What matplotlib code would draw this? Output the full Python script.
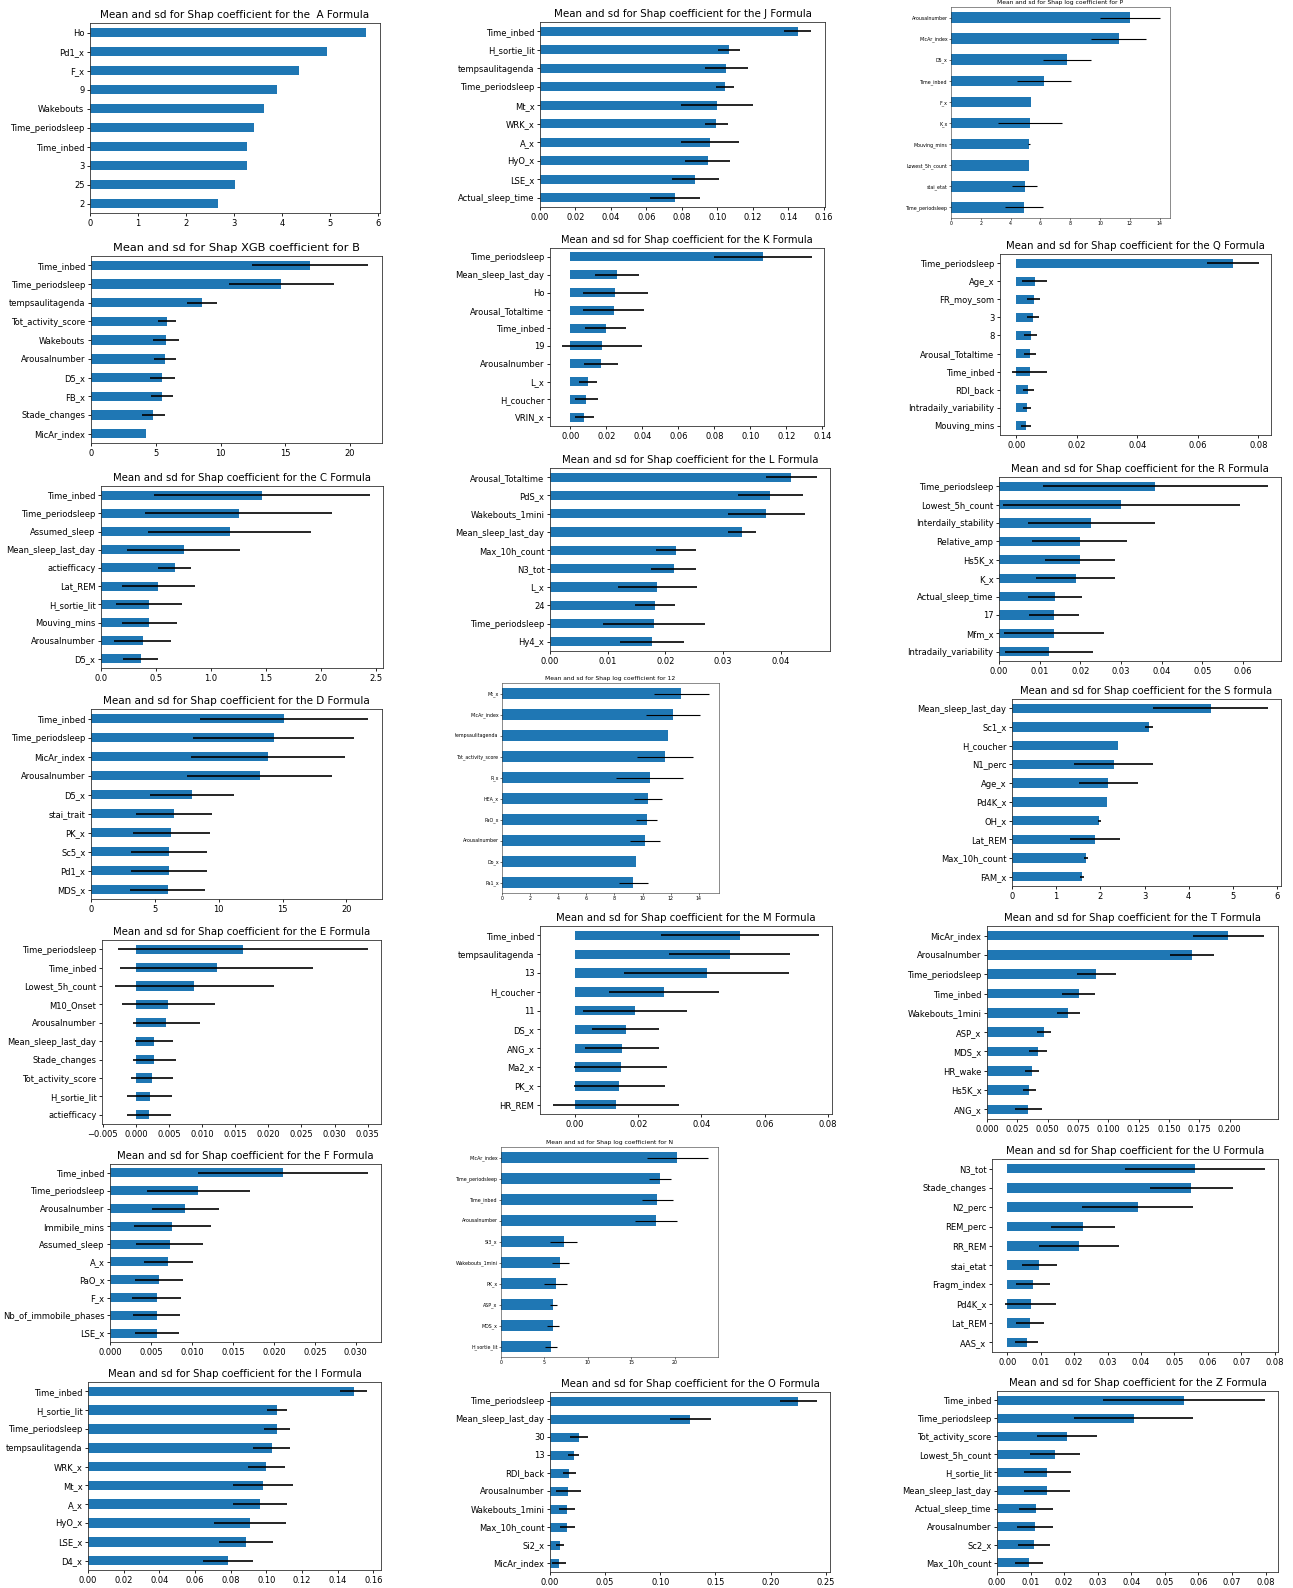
import numpy as np
import matplotlib
matplotlib.use("Agg")
import matplotlib.pyplot as plt

W, H = 1293, 1588
nan = np.nan

# ---- data, top bar first ----
a_labels = ["Ho", "Pd1_x", "F_x", "9", "Wakebouts", "Time_periodsleep", "Time_inbed", "3", "25", "2"]
a_mean = [5.76, 4.94, 4.36, 3.91, 3.62, 3.42, 3.28, 3.28, 3.02, 2.66]
a_sd = None

j_labels = ["Time_inbed", "H_sortie_lit", "tempsaulitagenda", "Time_periodsleep", "Mt_x", "WRK_x", "A_x", "HyO_x", "LSE_x", "Actual_sleep_time"]
j_mean = [0.1453, 0.1066, 0.1051, 0.1042, 0.0998, 0.0994, 0.0960, 0.0945, 0.0877, 0.0762]
j_sd = [0.0078, 0.0062, 0.012, 0.0052, 0.0204, 0.0066, 0.0165, 0.0128, 0.0133, 0.0142]

p_labels = ["Arousalnumber", "MicAr_index", "D5_x", "Time_inbed", "F_x", "K_x", "Mouving_mins", "Lowest_5h_count", "stai_etat", "Time_periodsleep"]
p_mean = [12.0, 11.26, 7.79, 6.26, 5.40, 5.32, 5.25, 5.25, 4.95, 4.89]
p_sd = [2.0, 1.85, 1.61, 1.8, nan, 2.14, 0.07, nan, 0.83, 1.28]

b_labels = ["Time_inbed", "Time_periodsleep", "tempsaulitagenda", "Tot_activity_score", "Wakebouts", "Arousalnumber", "D5_x", "FB_x", "Stade_changes", "MicAr_index"]
b_mean = [16.9, 14.7, 8.6, 5.85, 5.8, 5.75, 5.5, 5.5, 4.8, 4.25]
b_sd = [4.5, 4.05, 1.15, 0.7, 1.0, 0.85, 0.95, 0.85, 0.9, nan]
b_ticks = [0, 5, 10, 15, 20]

k_labels = ["Time_periodsleep", "Mean_sleep_last_day", "Ho", "Arousal_Totaltime", "Time_inbed", "19", "Arousalnumber", "L_x", "H_coucher", "VRIN_x"]
k_mean = [0.107, 0.0259, 0.025, 0.0241, 0.0196, 0.0178, 0.017, 0.0098, 0.0087, 0.0078]
k_sd = [0.027, 0.012, 0.018, 0.017, 0.0112, 0.0222, 0.0096, 0.005, 0.0064, 0.0052]

q_labels = ["Time_periodsleep", "Age_x", "FR_moy_som", "3", "8", "Arousal_Totaltime", "Time_inbed", "RDI_back", "Intradaily_variability", "Mouving_mins"]
q_mean = [0.0716, 0.0061, 0.0058, 0.0055, 0.0048, 0.0045, 0.0045, 0.0040, 0.0035, 0.0032]
q_sd = [0.0085, 0.0042, 0.0021, 0.0019, 0.0022, 0.0020, 0.0058, 0.0017, 0.0014, 0.0017]
q_ticks = [0.00, 0.02, 0.04, 0.06, 0.08]

c_labels = ["Time_inbed", "Time_periodsleep", "Assumed_sleep", "Mean_sleep_last_day", "actiefficacy", "Lat_REM", "H_sortie_lit", "Mouving_mins", "Arousalnumber", "D5_x"]
c_mean = [1.46, 1.25, 1.17, 0.75, 0.67, 0.52, 0.44, 0.44, 0.38, 0.36]
c_sd = [0.98, 0.85, 0.74, 0.51, 0.15, 0.33, 0.3, 0.25, 0.26, 0.16]

l_labels = ["Arousal_Totaltime", "PdS_x", "Wakebouts_1mini", "Mean_sleep_last_day", "Max_10h_count", "N3_tot", "L_x", "24", "Time_periodsleep", "Hy4_x"]
l_mean = [0.0418, 0.0382, 0.0375, 0.0333, 0.0218, 0.0214, 0.0186, 0.0182, 0.0180, 0.0177]
l_sd = [0.0044, 0.0056, 0.0066, 0.0024, 0.0035, 0.0039, 0.0068, 0.0034, 0.0089, 0.0055]

r_labels = ["Time_periodsleep", "Lowest_5h_count", "Interdaily_stability", "Relative_amp", "Hs5K_x", "K_x", "Actual_sleep_time", "17", "Mfm_x", "Intradaily_variability"]
r_mean = [0.0384, 0.0301, 0.0227, 0.0198, 0.0198, 0.0188, 0.0138, 0.0135, 0.0135, 0.0123]
r_sd = [0.0276, 0.0291, 0.0156, 0.0116, 0.0086, 0.0097, 0.0066, 0.0061, 0.0123, 0.0109]

d_labels = ["Time_inbed", "Time_periodsleep", "MicAr_index", "Arousalnumber", "D5_x", "stai_trait", "PK_x", "Sc5_x", "Pd1_x", "MDS_x"]
d_mean = [15.1, 14.3, 13.85, 13.2, 7.9, 6.5, 6.3, 6.1, 6.1, 6.0]
d_sd = [6.6, 6.3, 6.0, 5.7, 3.3, 3.0, 3.0, 2.95, 2.95, 2.95]

n12_labels = ["Mt_x", "MicAr_index", "tempsaulitagenda", "Tot_activity_score", "R_x", "HEA_x", "PaO_x", "Arousalnumber", "Do_x", "Pa1_x"]
n12_mean = [12.74, 12.14, 11.8, 11.57, 10.5, 10.38, 10.29, 10.17, 9.55, 9.33]
n12_sd = [1.96, 1.93, nan, 2.0, 2.38, 1.02, 0.74, 1.1, nan, 1.02]

s_labels = ["Mean_sleep_last_day", "Sc1_x", "H_coucher", "N1_perc", "Age_x", "Pd4K_x", "OH_x", "Lat_REM", "Max_10h_count", "FAM_x"]
s_mean = [4.5, 3.1, 2.4, 2.3, 2.18, 2.16, 1.98, 1.88, 1.68, 1.59]
s_sd = [1.3, 0.1, nan, 0.9, 0.67, nan, 0.03, 0.56, 0.04, 0.04]

e_labels = ["Time_periodsleep", "Time_inbed", "Lowest_5h_count", "M10_Onset", "Arousalnumber", "Mean_sleep_last_day", "Stade_changes", "Tot_activity_score", "H_sortie_lit", "actiefficacy"]
e_mean = [0.0162, 0.0122, 0.0088, 0.0049, 0.0046, 0.0027, 0.0028, 0.0024, 0.0021, 0.0020]
e_sd = [0.0189, 0.0146, 0.0120, 0.0070, 0.0051, 0.0029, 0.0032, 0.0032, 0.0034, 0.0033]

m_labels = ["Time_inbed", "tempsaulitagenda", "13", "H_coucher", "11", "DS_x", "ANG_x", "Ma2_x", "PK_x", "HR_REM"]
m_mean = [0.0521, 0.0489, 0.0416, 0.0282, 0.019, 0.016, 0.0148, 0.0144, 0.014, 0.013]
m_sd = [0.025, 0.0192, 0.026, 0.0175, 0.0164, 0.0106, 0.0118, 0.0146, 0.0143, 0.0199]

t_labels = ["MicAr_index", "Arousalnumber", "Time_periodsleep", "Time_inbed", "Wakebouts_1mini", "ASP_x", "MDS_x", "HR_wake", "Hs5K_x", "ANG_x"]
t_mean = [0.199, 0.169, 0.090, 0.0755, 0.067, 0.047, 0.042, 0.037, 0.035, 0.034]
t_sd = [0.0295, 0.018, 0.016, 0.0135, 0.0095, 0.006, 0.0077, 0.0055, 0.0055, 0.011]
t_ticks = [0.000, 0.025, 0.050, 0.075, 0.100, 0.125, 0.150, 0.175, 0.200]

f_labels = ["Time_inbed", "Time_periodsleep", "Arousalnumber", "Immibile_mins", "Assumed_sleep", "A_x", "PaO_x", "F_x", "Nb_of_immobile_phases", "LSE_x"]
f_mean = [0.0211, 0.0108, 0.0092, 0.0076, 0.0073, 0.0071, 0.0060, 0.0057, 0.0057, 0.0057]
f_sd = [0.0104, 0.0063, 0.0041, 0.0047, 0.0041, 0.0030, 0.0029, 0.0030, 0.0029, 0.0027]

n_labels = ["MicAr_index", "Time_periodsleep", "Time_inbed", "Arousalnumber", "Si3_x", "Wakebouts_1mini", "PK_x", "ASP_x", "MDS_x", "H_sortie_lit"]
n_mean = [20.3, 18.3, 18.0, 17.85, 7.2, 6.85, 6.3, 6.04, 6.0, 5.77]
n_sd = [3.5, 1.27, 1.77, 2.38, 1.5, 0.96, 1.3, 0.45, 0.65, 0.73]

u_labels = ["N3_tot", "Stade_changes", "N2_perc", "REM_perc", "RR_REM", "stai_etat", "Fragm_index", "Pd4K_x", "Lat_REM", "AAS_x"]
u_mean = [0.0561, 0.055, 0.039, 0.0227, 0.0215, 0.0096, 0.0078, 0.0070, 0.0067, 0.0058]
u_sd = [0.021, 0.0124, 0.0166, 0.0095, 0.012, 0.0052, 0.0051, 0.0077, 0.0042, 0.0035]
u_ticks = [0.00, 0.01, 0.02, 0.03, 0.04, 0.05, 0.06, 0.07, 0.08]

i_labels = ["Time_inbed", "H_sortie_lit", "Time_periodsleep", "tempsaulitagenda", "WRK_x", "Mt_x", "A_x", "HyO_x", "LSE_x", "D4_x"]
i_mean = [0.149, 0.106, 0.106, 0.103, 0.100, 0.098, 0.0965, 0.091, 0.0885, 0.0786]
i_sd = [0.0075, 0.0055, 0.0072, 0.0104, 0.0104, 0.0168, 0.0153, 0.0202, 0.015, 0.0142]

o_labels = ["Time_periodsleep", "Mean_sleep_last_day", "30", "13", "RDI_back", "Arousalnumber", "Wakebouts_1mini", "Max_10h_count", "Si2_x", "MicAr_index"]
o_mean = [0.225, 0.127, 0.026, 0.0213, 0.0176, 0.0167, 0.0157, 0.0157, 0.0093, 0.0083]
o_sd = [0.0167, 0.0185, 0.008, 0.005, 0.006, 0.011, 0.0074, 0.007, 0.0037, 0.0065]

z_labels = ["Time_inbed", "Time_periodsleep", "Tot_activity_score", "Lowest_5h_count", "H_sortie_lit", "Mean_sleep_last_day", "Actual_sleep_time", "Arousalnumber", "Sc2_x", "Max_10h_count"]
z_mean = [0.0557, 0.0407, 0.0208, 0.0172, 0.015, 0.0148, 0.0117, 0.0114, 0.0111, 0.0096]
z_sd = [0.024, 0.0178, 0.009, 0.0074, 0.007, 0.0068, 0.0051, 0.0053, 0.0048, 0.0042]

T = "Mean and sd for Shap coefficient for the {} Formula"

# title, labels, means, sds, xticks, axes box in px (left, top, right, bottom), title size, small screenshot
panels = [
    ("Mean and sd for Shap coefficient for the  A Formula", a_labels, a_mean, a_sd, None, (90, 23, 380, 213), 7.5, False),
    (T.format("J"), j_labels, j_mean, j_sd, None, (540, 22, 825, 207), 7.4, False),
    ("Mean and sd for Shap log coefficient for P", p_labels, p_mean, p_sd, None, (951, 7, 1170, 218), 4.3, True),
    ("Mean and sd for Shap XGB coefficient for B", b_labels, b_mean, b_sd, b_ticks, (91, 256, 382, 443), 8.2, False),
    (T.format("K"), k_labels, k_mean, k_sd, None, (550, 248, 824, 426), 7.1, False),
    (T.format("Q"), q_labels, q_mean, q_sd, q_ticks, (1000, 254, 1271, 435), 7.3, False),
    (T.format("C"), c_labels, c_mean, c_sd, None, (101, 486, 383, 668), 7.3, False),
    (T.format("L"), l_labels, l_mean, l_sd, None, (550, 468, 830, 651), 7.3, False),
    (T.format("R"), r_labels, r_mean, r_sd, None, (999, 477, 1281, 661), 7.3, False),
    (T.format("D"), d_labels, d_mean, d_sd, None, (91, 709, 382, 899), 7.5, False),
    ("Mean and sd for Shap log coefficient for 12", n12_labels, n12_mean, n12_sd, None, (502, 683, 719, 893), 4.3, True),
    ("Mean and sd for Shap coefficient for the S formula", s_labels, s_mean, s_sd, None, (1012, 699, 1281, 886), 7.2, False),
    (T.format("E"), e_labels, e_mean, e_sd, None, (102, 940, 381, 1124), 7.3, False),
    (T.format("M"), m_labels, m_mean, m_sd, None, (540, 926, 832, 1114), 7.3, False),
    (T.format("T"), t_labels, t_mean, t_sd, t_ticks, (987, 926, 1278, 1119), 7.3, False),
    (T.format("F"), f_labels, f_mean, f_sd, None, (110, 1164, 381, 1342), 7.3, False),
    ("Mean and sd for Shap log coefficient for N", n_labels, n_mean, n_sd, None, (501, 1147, 718, 1357), 4.3, True),
    (T.format("U"), u_labels, u_mean, u_sd, u_ticks, (992, 1159, 1278, 1352), 7.3, False),
    (T.format("I"), i_labels, i_mean, i_sd, None, (88, 1382, 381, 1570), 7.3, False),
    (T.format("O"), o_labels, o_mean, o_sd, None, (550, 1392, 830, 1572), 7.3, False),
    (T.format("Z"), z_labels, z_mean, z_sd, None, (997, 1391, 1278, 1572), 7.3, False),
]

fig = plt.figure(figsize=(W / 100, H / 100), dpi=100)

for title, labels, mean, sd, ticks, box, tfs, small in panels:
    l, t, r, b = box
    ax = fig.add_axes([l / W, 1 - b / H, (r - l) / W, (b - t) / H])
    fs = 3.4 if small else 6.0
    elw = 0.8 if small else 1.2
    y = np.arange(len(labels))[::-1]
    ax.barh(y, mean, height=0.5, color="#1f77b4", xerr=sd,
            error_kw=dict(ecolor="k", elinewidth=elw, capsize=0))
    ax.set_yticks(y)
    ax.set_yticklabels(labels)
    ax.set_ylim(-0.5, len(labels) - 0.5)
    if ticks is not None:
        ax.set_xticks(ticks)
    ax.tick_params(labelsize=fs, length=1.2 if small else 2.0,
                   width=0.4 if small else 0.6, pad=1.2 if small else 2)
    for sp in ax.spines.values():
        sp.set_linewidth(0.4 if small else 0.6)
        sp.set_color("#333333")
    ax.set_title(title, fontsize=tfs, pad=2 if small else 3.5)

fig.savefig("out.png", dpi=100)
